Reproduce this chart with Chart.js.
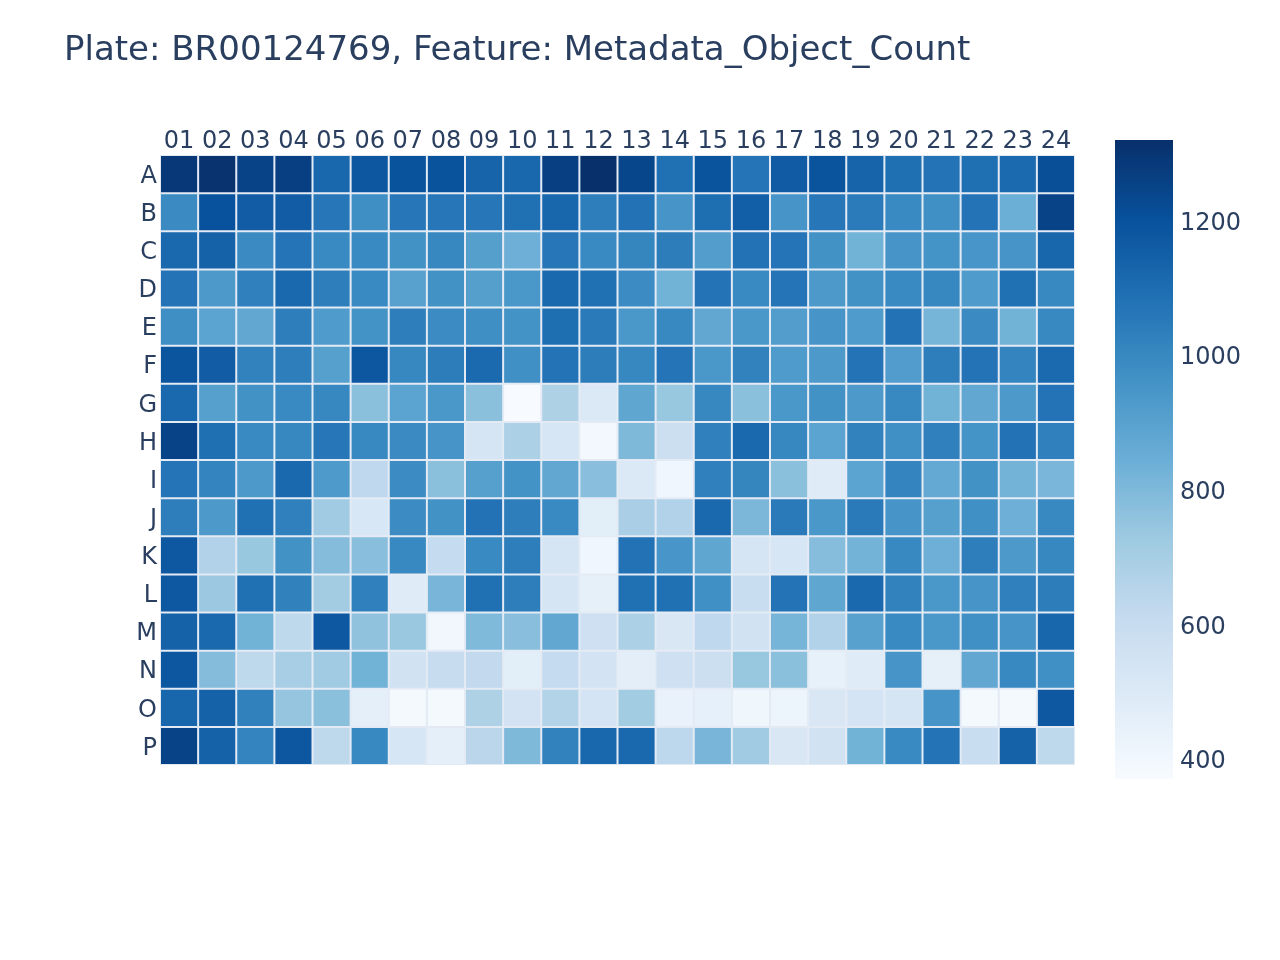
<!DOCTYPE html>
<html>
<head>
<meta charset="utf-8">
<script src="https://cdn.jsdelivr.net/npm/chart.js@4/dist/chart.umd.min.js"></script>
<style>
  html, body { margin: 0; padding: 0; background: #fff; }
  #wrap { position: relative; width: 1280px; height: 960px; }
  #main { position: absolute; left: 0; top: 0; }
  #cbar { position: absolute; left: 1115px; top: 130px; }
</style>
</head>
<body>
<div id="wrap">
  <canvas id="main" width="1280" height="960"></canvas>
  <canvas id="cbar" width="165" height="660"></canvas>
</div>
<script>
// ---- Data ----
const titleText = 'Plate: BR00124769, Feature: Metadata_Object_Count';
const colLabels = ['01','02','03','04','05','06','07','08','09','10','11','12','13','14','15','16','17','18','19','20','21','22','23','24'];
const rowLabels = ['A','B','C','D','E','F','G','H','I','J','K','L','M','N','O','P'];
const rowA = [1290,1310,1250,1265,1120,1180,1195,1195,1130,1120,1265,1320,1240,1085,1190,1070,1165,1190,1130,1090,1075,1090,1110,1210];
const rowB = [990,1200,1160,1160,1060,975,1060,1060,1065,1085,1125,1035,1080,950,1095,1150,950,1065,1045,995,970,1075,845,1250];
const rowC = [1115,1140,990,1070,995,995,965,1005,910,840,1060,995,1010,1040,915,1080,1070,965,830,950,955,945,950,1125];
const rowD = [1075,935,1030,1115,1035,995,900,965,910,940,1115,1085,985,830,1075,995,1070,935,965,995,1005,925,1085,1000];
const rowE = [975,890,875,1035,925,960,1035,985,975,960,1095,1050,940,1000,875,940,915,950,925,1080,820,990,830,1000];
const rowF = [1185,1160,1020,1035,905,1180,1005,1040,1110,970,1075,1040,1005,1070,940,1020,925,935,1075,920,1035,1075,1015,1110];
const rowG = [1115,905,965,995,1005,770,890,940,770,370,680,505,880,740,1005,770,940,965,935,1000,830,875,935,1075];
const rowH = [1250,1090,995,1005,1065,1000,990,950,535,685,525,395,800,580,1030,1115,1005,890,1020,970,1030,955,1080,1030];
const rowI = [1070,1015,935,1115,930,625,985,770,905,960,875,775,505,405,1030,1010,770,485,890,1015,865,965,825,810];
const rowJ = [1035,935,1085,1030,720,520,985,965,1080,1035,995,470,695,670,1115,805,1050,940,1050,950,905,970,840,1000];
const rowK = [1175,670,740,965,785,775,1000,610,995,1035,535,405,1080,945,880,535,525,780,825,1000,840,1035,935,1005];
const rowL = [1175,730,1085,1025,710,1030,485,815,1085,1035,535,455,1085,1085,970,595,1075,880,1115,1020,940,950,1030,1040];
const rowM = [1140,1115,830,630,1175,760,735,400,795,775,875,570,685,515,625,555,820,670,900,995,940,970,950,1125];
const rowN = [1180,785,630,700,720,830,555,600,620,470,610,545,465,570,580,740,770,445,485,950,455,875,1000,970];
const rowO = [1125,1140,1025,745,770,460,385,385,680,545,665,540,715,435,450,410,420,515,540,535,950,385,385,1175];
const rowP = [1250,1140,1015,1180,630,1000,525,460,640,800,1020,1120,1115,635,815,720,515,555,830,995,1075,595,1140,630];
const cbarTicks = [400, 600, 800, 1000, 1200];

const grid = [rowA,rowB,rowC,rowD,rowE,rowF,rowG,rowH,rowI,rowJ,rowK,rowL,rowM,rowN,rowO,rowP];

// ---- Colour scale (Blues) ----
const blues = [
  [0.000, [247,251,255]],
  [0.125, [222,235,247]],
  [0.250, [198,219,239]],
  [0.375, [158,202,225]],
  [0.500, [107,174,214]],
  [0.625, [66,146,198]],
  [0.750, [33,113,181]],
  [0.875, [8,81,156]],
  [1.000, [8,48,107]]
];
const allVals = grid.flat();
const zmin = Math.min(...allVals);
const zmax = Math.max(...allVals);
function colorAt(f) {
  f = Math.max(0, Math.min(1, f));
  for (let i = 1; i < blues.length; i++) {
    if (f <= blues[i][0]) {
      const [f0, c0] = blues[i-1], [f1, c1] = blues[i];
      const t = (f - f0) / (f1 - f0);
      const c = c0.map((v, k) => Math.round(v + (c1[k] - v) * t));
      return `rgb(${c[0]},${c[1]},${c[2]})`;
    }
  }
  return 'rgb(8,48,107)';
}
function colorFor(v) { return colorAt((v - zmin) / (zmax - zmin)); }

const FONT = "'DejaVu Sans', sans-serif";
const TXT = '#2a3f5f';

const plotBg = {
  id: 'plotBg',
  beforeDatasetsDraw(chart) {
    const a = chart.chartArea, ctx = chart.ctx;
    ctx.save();
    ctx.fillStyle = '#e5ecf6';
    ctx.fillRect(a.left, a.top, a.right - a.left, a.bottom - a.top);
    ctx.restore();
  }
};

// ---- Heatmap ----
const datasets = rowLabels.map((r, i) => ({
  label: r,
  data: colLabels.map(() => [i, i + 1]),
  backgroundColor: grid[i].map(colorFor),
  borderColor: '#e3eaf4',
  borderWidth: 1,
  borderSkipped: false,
  inflateAmount: 0,
  barPercentage: 1,
  categoryPercentage: 1,
  grouped: false
}));

new Chart(document.getElementById('main'), {
  type: 'bar',
  data: { labels: colLabels, datasets },
  plugins: [plotBg],
  options: {
    responsive: false,
    animation: false,
    layout: { padding: { left: 64, right: 205, top: 0, bottom: 195 } },
    plugins: {
      legend: { display: false },
      tooltip: { enabled: false },
      title: {
        display: true,
        text: titleText,
        align: 'start',
        color: TXT,
        font: { family: FONT, size: 34, weight: 'normal' },
        padding: { top: 31, bottom: 6 }
      }
    },
    scales: {
      x: {
        type: 'category',
        position: 'top',
        offset: true,
        grid: { display: false, drawTicks: false },
        border: { display: false },
        ticks: { color: TXT, font: { family: FONT, size: 24, lineHeight: 1 }, padding: 1, maxRotation: 0, autoSkip: false },
        afterFit(s) { s.height = 77.2; }
      },
      y: {
        type: 'linear',
        min: 0, max: 16,
        reverse: true,
        display: false
      },
      yl: {
        type: 'category',
        labels: rowLabels,
        position: 'left',
        offset: true,
        grid: { display: false, drawTicks: false },
        border: { display: false },
        ticks: { color: TXT, font: { family: FONT, size: 24 }, padding: 3, labelOffset: 2.5, autoSkip: false },
        afterFit(s) { s.width = 96; }
      }
    }
  }
});

// ---- Colour bar ----
new Chart(document.getElementById('cbar'), {
  type: 'bar',
  data: {
    labels: ['scale'],
    datasets: [{
      data: [[zmin, zmax]],
      borderWidth: 0,
      inflateAmount: 0,
      barPercentage: 1,
      categoryPercentage: 1,
      backgroundColor(ctx) {
        const chart = ctx.chart;
        if (!chart.chartArea) return '#ccc';
        const ys = chart.scales.y;
        const g = chart.ctx.createLinearGradient(0, ys.getPixelForValue(zmin), 0, ys.getPixelForValue(zmax));
        blues.forEach(([f, c]) => g.addColorStop(f, `rgb(${c[0]},${c[1]},${c[2]})`));
        return g;
      }
    }]
  },
  options: {
    responsive: false,
    animation: false,
    layout: { padding: { left: 0, right: 0, top: 10, bottom: 11 } },
    plugins: { legend: { display: false }, tooltip: { enabled: false } },
    scales: {
      x: { display: false },
      y: {
        position: 'right',
        min: zmin, max: zmax,
        grid: { display: false, drawTicks: false },
        border: { display: false },
        afterBuildTicks(s) { s.ticks = cbarTicks.map(v => ({ value: v })); },
        ticks: { color: TXT, font: { family: FONT, size: 24 }, padding: 7, labelOffset: 3, callback: v => String(v) },
        afterFit(s) { s.width = 107; s.paddingTop = 0; s.paddingBottom = 0; }
      }
    }
  }
});
</script>
</body>
</html>
